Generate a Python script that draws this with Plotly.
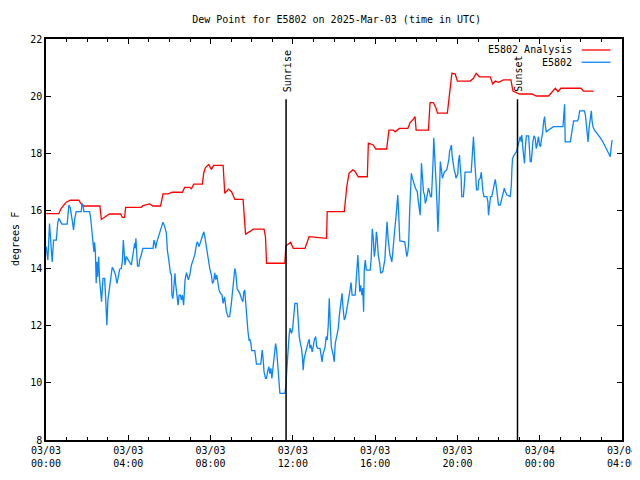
import pandas as pd
import plotly.graph_objects as go

# ---- data (hours after 2025-03-03 00:00 UTC, dew point in degrees F) ----
analysis_hours = [0.01, 0.62, 0.74, 0.98, 1.19, 1.60, 1.71, 1.79, 2.62, 2.69, 2.93, 3.09, 3.63, 3.71, 3.82, 3.87,
                  4.63, 4.71, 5.04, 5.20, 5.57, 5.69, 5.93, 6.14, 6.63, 6.74, 6.99, 7.07, 7.18, 7.60, 7.67, 7.75,
                  7.91, 8.04, 8.15, 8.61, 8.69, 8.87, 9.02, 9.18, 9.58, 9.70, 9.96, 10.07, 10.60, 10.67, 10.72,
                  11.61, 11.66, 11.89, 12.02, 12.59, 12.79, 13.64, 13.67, 14.50, 14.62, 14.73, 14.91, 15.02, 15.18,
                  15.62, 15.67, 15.91, 16.03, 16.56, 16.67, 16.88, 16.97, 17.18, 17.59, 17.70, 17.86, 17.94, 17.99,
                  18.59, 18.67, 18.83, 18.95, 19.03, 19.51, 19.73, 19.89, 20.00, 20.62, 20.78, 20.91, 21.07, 21.59,
                  21.72, 21.84, 22.00, 22.24, 22.60, 22.70, 23.02, 23.62, 23.83, 24.43, 24.76, 24.89, 25.03, 26.01,
                  26.13, 26.62]
analysis_vals = [15.9, 15.9, 16.09, 16.3, 16.37, 16.37, 16.24, 16.17, 16.17, 15.7, 15.82, 15.89, 15.89, 15.77, 15.77, 16.12,
                 16.12, 16.18, 16.24, 16.17, 16.17, 16.59, 16.59, 16.65, 16.65, 16.82, 16.82, 16.77, 16.93, 16.93, 17.33, 17.51,
                 17.62, 17.45, 17.59, 17.59, 16.61, 16.76, 16.67, 16.4, 16.4, 15.19, 15.3, 15.36, 15.36, 15.08, 14.17,
                 14.17, 14.77, 14.9, 14.69, 14.69, 15.1, 15.04, 15.97, 15.97, 16.84, 17.31, 17.43, 17.38, 17.19,
                 17.19, 18.36, 18.3, 18.16, 18.16, 18.82, 18.82, 18.76, 18.88, 18.88, 19.08, 19.2, 19.29, 18.82,
                 18.82, 19.78, 19.78, 19.6, 19.41, 19.41, 20.8, 20.78, 20.53, 20.53, 20.63, 20.8, 20.68, 20.68,
                 20.43, 20.53, 20.49, 20.57, 20.57, 20.18, 20.08, 20.08, 20.01, 20.01, 20.28, 20.16, 20.28, 20.28,
                 20.18, 20.18]

station_hours = [0.01, 0.09, 0.17, 0.30, 0.37, 0.50, 0.57, 0.62, 0.69, 0.77, 1.03, 1.11, 1.18, 1.23, 1.29, 1.34, 1.39,
                 1.47, 1.71, 1.76, 1.80, 1.84, 2.12, 2.17, 2.23, 2.28, 2.33, 2.36, 2.40, 2.44, 2.47, 2.51, 2.56, 2.60,
                 2.65, 2.70, 2.77, 2.85, 2.88, 2.93, 2.96, 3.01, 3.09, 3.14, 3.22, 3.29, 3.38, 3.45, 3.50, 3.58, 3.66,
                 3.71, 3.76, 3.79, 3.84, 3.90, 3.98, 4.07, 4.15, 4.23, 4.27, 4.31, 4.34, 4.37, 4.42, 4.45, 4.52, 4.55,
                 4.63, 4.71, 5.20, 5.25, 5.30, 5.33, 5.39, 5.48, 5.56, 5.64, 5.69, 5.77, 5.85, 5.90, 5.98, 6.05, 6.10,
                 6.12, 6.17, 6.22, 6.27, 6.30, 6.37, 6.42, 6.47, 6.53, 6.58, 6.63, 6.69, 6.76, 6.83, 6.88, 6.92, 6.99,
                 7.07, 7.15, 7.23, 7.31, 7.36, 7.44, 7.51, 7.59, 7.67, 7.72, 7.80, 7.88, 7.96, 8.04, 8.09, 8.15, 8.20,
                 8.25, 8.30, 8.41, 8.48, 8.56, 8.61, 8.68, 8.77, 8.85, 8.93, 9.02, 9.09, 9.18, 9.23, 9.29, 9.36, 9.42,
                 9.50, 9.57, 9.62, 9.66, 9.71, 9.76, 9.82, 9.87, 9.91, 9.96, 10.00, 10.15, 10.20, 10.23, 10.44, 10.51,
                 10.56, 10.60, 10.67, 10.72, 10.77, 10.83, 10.88, 10.93, 10.98, 11.04, 11.09, 11.16, 11.21, 11.26,
                 11.32, 11.37, 11.61, 11.66, 11.69, 11.72, 11.77, 11.82, 11.86, 11.89, 11.94, 11.99, 12.06, 12.10,
                 12.21, 12.26, 12.31, 12.38, 12.42, 12.47, 12.50, 12.55, 12.60, 12.67, 12.75, 12.80, 12.83, 12.88,
                 12.94, 12.99, 13.04, 13.11, 13.16, 13.21, 13.32, 13.37, 13.42, 13.46, 13.51, 13.57, 13.62, 13.67,
                 13.72, 13.77, 13.82, 13.87, 13.96, 14.01, 14.06, 14.13, 14.21, 14.26, 14.32, 14.37, 14.39, 14.44,
                 14.50, 14.56, 14.62, 14.71, 14.78, 14.83, 14.88, 15.03, 15.08, 15.13, 15.16, 15.20, 15.25, 15.30,
                 15.35, 15.40, 15.44, 15.47, 15.52, 15.57, 15.76, 15.81, 15.86, 15.91, 15.96, 16.01, 16.06, 16.10,
                 16.15, 16.22, 16.27, 16.37, 16.42, 16.47, 16.53, 16.58, 16.63, 16.67, 16.72, 16.77, 16.81, 16.86,
                 16.90, 16.95, 17.00, 17.05, 17.10, 17.15, 17.20, 17.44, 17.49, 17.54, 17.59, 17.63, 17.68, 17.73,
                 17.76, 17.81, 17.86, 17.91, 17.96, 18.00, 18.05, 18.10, 18.15, 18.19, 18.25, 18.30, 18.35, 18.40,
                 18.44, 18.49, 18.54, 18.59, 18.64, 18.69, 18.74, 18.79, 18.82, 18.85, 18.88, 18.92, 18.96, 19.01,
                 19.05, 19.08, 19.11, 19.14, 19.17, 19.22, 19.27, 19.32, 19.37, 19.48, 19.53, 19.58, 19.62, 19.67,
                 19.71, 19.74, 19.79, 19.84, 19.89, 19.93, 19.97, 20.02, 20.05, 20.10, 20.13, 20.18, 20.21, 20.29,
                 20.34, 20.37, 20.67, 20.73, 20.78, 20.83, 20.88, 20.93, 21.00, 21.04, 21.11, 21.16, 21.24, 21.29,
                 21.43, 21.48, 21.51, 21.56, 21.61, 21.67, 21.72, 21.77, 21.84, 21.88, 21.95, 22.00, 22.08, 22.13,
                 22.19, 22.28, 22.33, 22.41, 22.57, 22.62, 22.65, 22.68, 22.75, 22.81, 22.86, 22.91, 22.95, 23.00,
                 23.05, 23.10, 23.13, 23.18, 23.23, 23.26, 23.30, 23.35, 23.46, 23.49, 23.54, 23.59, 23.62, 23.67,
                 23.72, 23.78, 23.83, 23.86, 23.91, 23.94, 23.99, 24.04, 24.09, 24.14, 24.19, 24.24, 24.27, 24.32,
                 24.43, 24.56, 24.67, 25.13, 25.16, 25.21, 25.24, 25.49, 25.54, 25.58, 25.62, 25.65, 25.84, 25.89,
                 25.94, 26.17, 26.22, 26.27, 26.32, 26.35, 26.40, 26.46, 26.51, 26.54, 26.59, 26.66, 26.79, 26.95,
                 27.11, 27.27, 27.43, 27.47, 27.52]
station_vals = [14.75, 14.28, 15.56, 14.22, 14.98, 14.98, 15.57, 15.74, 15.65, 15.54, 15.54, 16.2, 16.1, 15.91, 15.6, 15.33, 15.7,
                15.97, 15.97, 16.26, 16.2, 15.97, 15.97, 15.75, 15.33, 14.87, 14.57, 14.9, 14.57, 13.47, 14.22, 13.7, 14.4, 13.64,
                13.06, 12.83, 13.64, 13.64, 13.24, 12.42, 12.01, 12.89, 13.24, 13.6, 14.03, 13.94, 13.76, 13.47, 13.64, 13.96, 13.99,
                14.22, 14.98, 14.4, 14.11, 14.4, 14.28, 14.2, 14.11, 14.46, 14.57, 14.87, 14.7, 15.04, 14.4, 14.07, 14.07, 14.28,
                14.46, 14.69, 14.69, 14.98, 14.86, 14.69, 14.92, 15.16, 15.35, 15.5, 15.6, 15.45, 15.22, 14.63, 14.22, 13.82, 13.76,
                13.06, 12.94, 13.6, 13.82, 13.47, 13.0, 12.71, 13.06, 13.06, 12.89, 13.06, 12.71, 13.59, 13.84, 13.7, 13.59, 13.76,
                14.11, 14.28, 14.46, 14.81, 14.92, 14.75, 14.92, 15.16, 15.27, 15.1, 14.69, 14.22, 13.99, 13.76, 13.47, 13.53, 13.84,
                13.6, 13.76, 13.24, 13.12, 13.06, 12.77, 13.0, 12.48, 12.3, 12.32, 12.83, 13.47, 13.99, 13.82, 13.29, 13.2, 13.12,
                12.94, 12.83, 13.18, 13.24, 12.77, 12.19, 11.78, 11.49, 11.51, 11.37, 11.12, 11.12, 10.91, 10.65, 10.65, 11.14,
                10.79, 10.38, 10.15, 10.15, 10.38, 10.56, 10.32, 10.5, 10.15, 10.62, 10.97, 11.37, 11.14, 10.68,
                10.03, 9.63, 9.63, 9.86, 10.27, 10.68, 11.14, 11.66, 11.9, 11.78, 11.72, 11.9, 12.42, 12.77,
                12.77, 12.3, 11.61, 11.32, 11.2, 10.85, 10.44, 10.85, 11.02, 11.2, 11.43, 11.52, 11.2, 11.32,
                11.08, 11.26, 11.49, 11.61, 11.26, 11.2, 11.2, 10.97, 10.73, 10.97, 11.14, 11.26, 11.61, 11.49,
                12.0, 12.95, 12.0, 11.26, 10.97, 10.73, 11.37, 11.61, 11.9, 12.36, 12.77, 12.89, 13.12, 12.6,
                12.19, 12.3, 12.54, 12.83, 13.24, 13.5, 13.06, 13.06, 13.76, 14.22, 14.46, 13.9, 13.18, 13.4,
                13.06, 13.3, 12.48, 13.93, 14.28, 13.93, 13.93, 14.34, 15.37, 15.04, 14.4, 14.69, 15.27, 15.04,
                14.46, 14.17, 13.82, 13.88, 14.05, 14.28, 15.04, 15.62, 15.04, 14.75, 14.46, 14.34, 14.22, 14.57,
                15.04, 15.33, 15.68, 16.03, 16.55, 15.8, 14.95, 14.92, 14.57, 14.4, 14.57, 14.87, 16.03, 16.9,
                17.31, 17.14, 17.02, 16.84, 16.79, 16.73, 16.67, 16.32, 16.09, 15.85, 17.66, 17.14, 16.67, 16.55,
                16.26, 16.38, 16.55, 16.79, 16.67, 16.5, 16.5, 17.14, 17.8, 18.55, 17.95, 17.6, 17.02, 16.2,
                15.27, 15.74, 16.2, 17.02, 17.72, 17.43, 17.14, 17.25, 17.37, 17.43, 17.6, 17.78, 18.08, 18.18,
                18.3, 17.95, 17.6, 17.43, 17.31, 17.14, 17.2, 17.31, 17.72, 17.95, 17.6, 17.14, 16.5, 16.5,
                16.96, 17.35, 17.35, 17.89, 18.59, 17.89, 17.25, 16.73, 16.73, 17.08, 17.14, 17.35, 16.68, 16.5,
                16.5, 16.32, 15.85, 16.32, 16.5, 16.5, 16.67, 16.9, 17.1, 16.9, 16.44, 16.2, 16.2, 16.38,
                16.55, 16.79, 16.67, 16.55, 16.5, 16.9, 17.49, 17.83, 17.95, 18.01, 18.05, 18.18, 18.3, 18.53,
                18.59, 18.42, 18.65, 18.18, 17.89, 17.66, 18.2, 18.62, 18.62, 18.3, 17.72, 17.72, 18.07, 18.42,
                18.62, 18.53, 18.18, 18.24, 18.47, 18.59, 18.3, 18.24, 18.53, 18.71, 19.11, 19.29, 19.0, 18.76,
                18.82, 18.88, 18.94, 18.94, 19.21, 19.72, 18.41, 18.41, 18.65, 18.88, 19.06, 19.14, 19.14, 19.24,
                19.49, 19.49, 19.35, 19.0, 18.65, 18.41, 18.9, 19.32, 19.49, 19.17, 18.94, 18.82, 18.7, 18.55,
                18.35, 18.12, 17.89, 18.2, 18.47]

x_tick_hours = [0, 4, 8, 12, 16, 20, 24, 28]
x_tick_labels = ["03/03<br>00:00", "03/03<br>04:00", "03/03<br>08:00", "03/03<br>12:00",
                 "03/03<br>16:00", "03/03<br>20:00", "03/04<br>00:00", "03/04<br>04:00"]
y_ticks = [8, 10, 12, 14, 16, 18, 20, 22]
sun_events = {"Sunrise": 11.67, "Sunset": 22.92}

base = pd.Timestamp("2025-03-03 00:00")
def to_time(hours):
    return [base + pd.Timedelta(hours=h) for h in hours]

FONT = "DejaVu Sans Mono"
FS = 10
RED = "#ff0000"
BLUE = "#0a84ff"
# page body adds an 8px offset, so the figure is sized to fill the 640x480 window
W, H = 632, 472
ML = 38

fig = go.Figure()
fig.add_trace(go.Scatter(x=to_time(analysis_hours), y=analysis_vals, mode="lines",
                         name="E5802 Analysis", line=dict(color=RED, width=1.3)))
fig.add_trace(go.Scatter(x=to_time(station_hours), y=station_vals, mode="lines",
                         name="E5802", line=dict(color=BLUE, width=1.3)))

line_top = 19.9
for label, h in sun_events.items():
    t = base + pd.Timedelta(hours=h)
    fig.add_shape(type="line", x0=t, x1=t, y0=8, y1=line_top, xref="x", yref="y",
                  line=dict(color="black", width=1.5))
    fig.add_annotation(x=t, y=line_top, xref="x", yref="y", text=label, textangle=-90,
                       showarrow=False, xanchor="center", yanchor="bottom", yshift=5, xshift=1,
                       font=dict(family=FONT, size=FS, color="black"))

# gnuplot-style legend (text right, sample line to its right)
legend_items = [("E5802 Analysis", RED, 0.9726), ("E5802", BLUE, 0.942)]
for text, color, yp in legend_items:
    fig.add_annotation(x=0.917, y=yp, xref="paper", yref="paper", text=text, showarrow=False,
                       xanchor="right", yanchor="middle", font=dict(family=FONT, size=FS, color="black"))
    fig.add_shape(type="line", x0=0.930, x1=0.980, y0=yp, y1=yp, xref="paper", yref="paper",
                  line=dict(color=color, width=1.3))

plot_w = W - ML - 18
fig.add_annotation(x=-ML / plot_w, y=0.5, xref="paper", yref="paper", text="degrees F", textangle=-90,
                   showarrow=False, xanchor="left", yanchor="middle",
                   font=dict(family=FONT, size=FS, color="black"))

fig.update_layout(
    width=W, height=H,
    margin=dict(l=ML, r=18, t=31, b=40, autoexpand=False),
    paper_bgcolor="white", plot_bgcolor="white",
    showlegend=False,
    title=dict(text="Dew Point for E5802 on 2025-Mar-03 (time in UTC)", x=0.52, xanchor="center",
               y=1 - 11 / H, yanchor="middle", font=dict(family=FONT, size=FS, color="black")),
    font=dict(family=FONT, size=FS, color="black"),
)
fig.update_xaxes(
    type="date", range=[base, base + pd.Timedelta(hours=28)], automargin=False,
    tickvals=to_time(x_tick_hours), ticktext=x_tick_labels,
    ticks="inside", ticklen=5, tickwidth=1, tickcolor="black",
    minor=dict(dtick=3600000, ticks="inside", ticklen=3, tickcolor="black", showgrid=False),
    showline=True, linecolor="black", linewidth=1.5, mirror="allticks",
    showgrid=False, zeroline=False, tickfont=dict(family=FONT, size=FS),
)
fig.update_yaxes(
    range=[8, 22], tickvals=y_ticks, automargin=False,
    ticks="inside", ticklen=5, tickwidth=1, tickcolor="black",
    showline=True, linecolor="black", linewidth=1.5, mirror="allticks",
    showgrid=False, zeroline=False, tickfont=dict(family=FONT, size=FS),
)

fig.write_html("out.html")
